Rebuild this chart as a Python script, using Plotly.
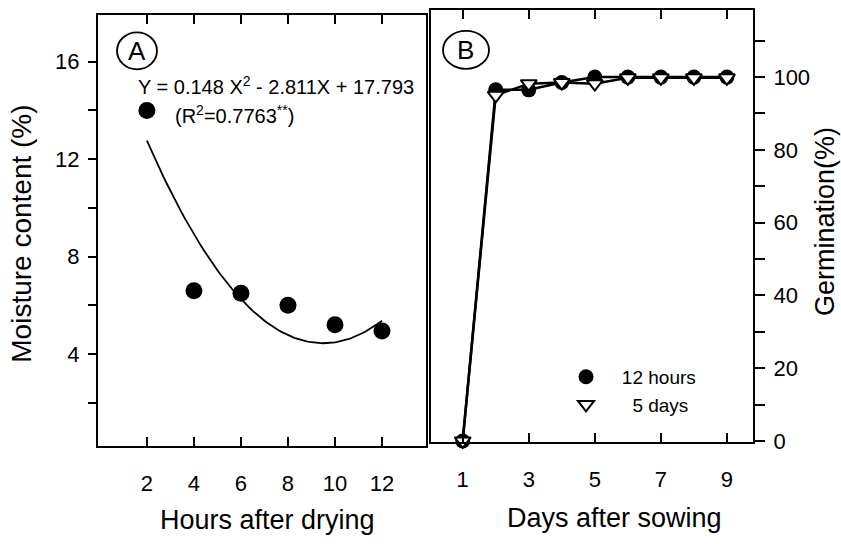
import numpy as np
import plotly.graph_objects as go

# ---- Panel A data ----
hours = [2, 4, 6, 8, 10, 12]
moisture = [14.0, 6.6, 6.5, 6.0, 5.2, 4.95]
fit_coef = [0.148, -2.811, 17.793]  # Y = aX^2 + bX + c (shown on chart)

# ---- Panel B data ----
days = [1, 2, 3, 4, 5, 6, 7, 8, 9]
germ_12h = [0, 96.5, 96.5, 98.5, 100, 100, 100, 100, 100]
germ_5d = [0, 95, 98.2, 98.5, 98.2, 99.8, 99.8, 99.8, 99.8]

xa_ticks = [2, 4, 6, 8, 10, 12]
ya_ticks = [2, 4, 6, 8, 10, 12, 14, 16]
ya_text = ["", "4", "", "8", "", "12", "", "16"]
xb_ticks = [1, 3, 5, 7, 9]
yb_ticks = [0, 10, 20, 30, 40, 50, 60, 70, 80, 90, 100, 110]
yb_text = ["0", "", "20", "", "40", "", "60", "", "80", "", "100", ""]

FONT = "Arial, Liberation Sans, sans-serif"
W, H = 841, 544

def px(x):
    return x / W

def py(y):
    return 1 - y / H

fit_x = np.linspace(hours[0], hours[-1], 101)
fit_y = fit_coef[0] * fit_x ** 2 + fit_coef[1] * fit_x + fit_coef[2]

fig = go.Figure()

fig.add_trace(go.Scatter(x=fit_x, y=fit_y, mode="lines",
                         line=dict(color="black", width=1.8),
                         xaxis="x", yaxis="y", showlegend=False))
fig.add_trace(go.Scatter(x=hours, y=moisture, mode="markers",
                         marker=dict(symbol="circle", size=17, color="black"),
                         xaxis="x", yaxis="y", showlegend=False))

# Panel B lines
fig.add_trace(go.Scatter(x=days, y=germ_12h, mode="lines",
                         line=dict(color="black", width=2.5),
                         xaxis="x2", yaxis="y2", showlegend=False))
fig.add_trace(go.Scatter(x=days, y=germ_5d, mode="lines",
                         line=dict(color="black", width=2.5),
                         xaxis="x2", yaxis="y2", showlegend=False))
# Panel B markers
fig.add_trace(go.Scatter(x=days, y=germ_12h, mode="markers", name="\u00a0\u00a0\u00a012 hours",
                         marker=dict(symbol="circle", size=15, color="black"),
                         xaxis="x2", yaxis="y2", cliponaxis=False))
fig.add_trace(go.Scatter(x=days, y=germ_5d, mode="markers", name="\u00a0\u00a0\u00a0\u00a0\u00a05 days",
                         marker=dict(symbol="triangle-down", size=14, color="white",
                                     line=dict(color="black", width=2)),
                         xaxis="x2", yaxis="y2", cliponaxis=False))

tickfont = dict(family=FONT, size=22, color="black")

fig.update_layout(
    width=W, height=H,
    margin=dict(l=0, r=0, t=0, b=0),
    paper_bgcolor="white", plot_bgcolor="white",
    font=dict(family=FONT, color="black"),
    xaxis=dict(domain=[px(98), px(426)], range=[-0.08, 13.87], anchor="y",
               tickvals=xa_ticks, ticks="inside", ticklen=9, tickwidth=2, tickcolor="black",
               showline=True, linecolor="black", linewidth=2, mirror="ticks",
               showgrid=False, zeroline=False, tickfont=tickfont, ticklabelstandoff=17),
    yaxis=dict(domain=[py(456), py(15)], range=[0.23, 17.93], anchor="x",
               tickvals=ya_ticks, ticktext=ya_text, ticks="outside", ticklen=8, tickwidth=2,
               tickcolor="black", showline=True, linecolor="black", linewidth=2, mirror=True,
               showgrid=False, zeroline=False, tickfont=tickfont, ticklabelstandoff=4),
    yaxis3=dict(overlaying="y", side="right", anchor="x", range=[0.23, 17.93],
                tickvals=ya_ticks, ticks="inside", ticklen=11, tickwidth=2, tickcolor="black",
                showticklabels=False, showgrid=False, zeroline=False, showline=False),
    xaxis2=dict(domain=[px(431), px(753)], range=[0.04, 9.79], anchor="y2",
                tickvals=xb_ticks, ticks="inside", ticklen=9, tickwidth=2, tickcolor="black",
                showline=True, linecolor="black", linewidth=2, mirror="ticks",
                showgrid=False, zeroline=False, tickfont=tickfont, ticklabelstandoff=17),
    yaxis2=dict(domain=[py(452), py(10)], range=[-0.3, 118.5], anchor="x2", side="right",
                tickvals=yb_ticks, ticktext=yb_text, ticks="outside", ticklen=10, tickwidth=2,
                tickcolor="black", showline=True, linecolor="black", linewidth=2, mirror=True,
                showgrid=False, zeroline=False, tickfont=tickfont, ticklabelstandoff=4),
    yaxis4=dict(overlaying="y2", side="left", anchor="x2", range=[-0.3, 118.5],
                tickvals=yb_ticks, ticks="inside", ticklen=12, tickwidth=2, tickcolor="black",
                showticklabels=False, showgrid=False, zeroline=False, showline=False),
    legend=dict(x=px(566), y=py(366), xanchor="left", yanchor="top",
                bgcolor="rgba(0,0,0,0)", font=dict(family=FONT, size=19, color="black"),
                tracegroupgap=0, itemsizing="trace"),
)

def note(text, x, y, size, angle=0):
    return dict(text=text, x=px(x), y=py(y), xref="paper", yref="paper",
                xanchor="center", yanchor="middle", textangle=angle,
                showarrow=False, font=dict(size=size, family=FONT, color="black"))

ann = [
    note("Moisture content (%)", 22, 239, 28, -90),
    note("Hours after drying", 267, 532, 27),
    note("Days after sowing", 614, 530, 27),
    note("Germination(%)", 825, 227, 27, -90),
    note("Y = 0.148 X<sup>2</sup> - 2.811X + 17.793", 276, 87, 20),
    note("(R<sup>2</sup>=0.7763<sup>**</sup>)", 234, 117, 20),
    note("A", 137, 52, 26),
    note("B", 466, 51, 26),
]
fig.update_layout(annotations=ann)

fig.add_shape(type="circle", xref="paper", yref="paper", xsizemode="pixel", ysizemode="pixel",
              xanchor=px(137), yanchor=py(52), x0=-20, x1=20, y0=-18.5, y1=18.5,
              line=dict(color="black", width=1.8))
fig.add_shape(type="circle", xref="paper", yref="paper", xsizemode="pixel", ysizemode="pixel",
              xanchor=px(466), yanchor=py(51), x0=-23, x1=23, y0=-19, y1=19,
              line=dict(color="black", width=1.8))

fig.write_html("out.html")
